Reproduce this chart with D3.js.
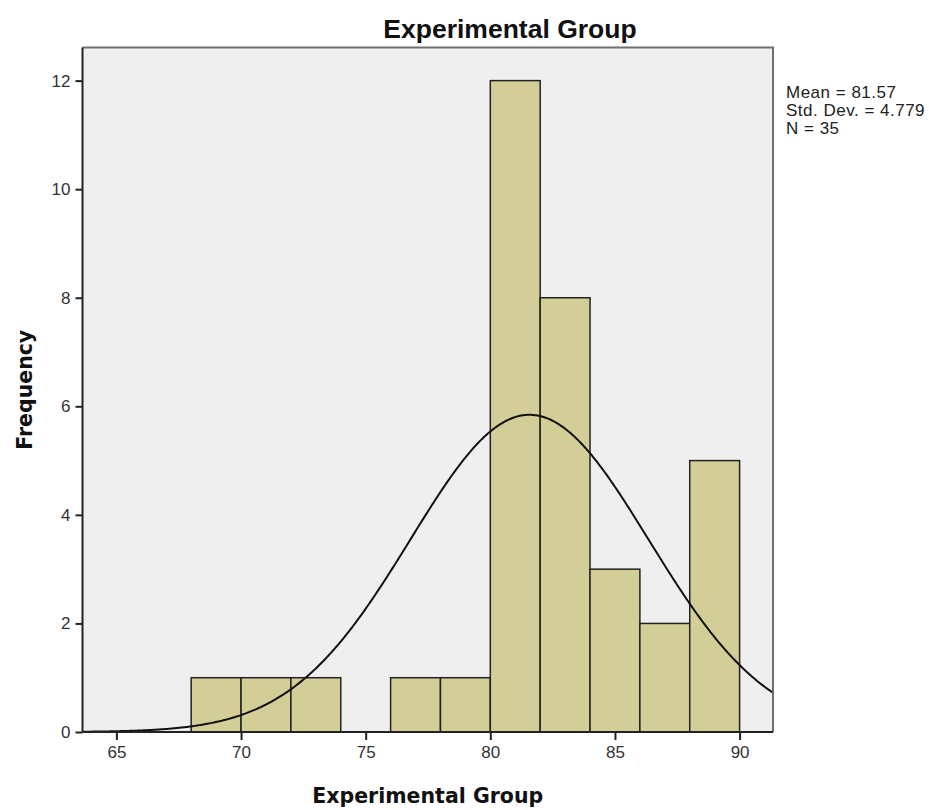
<!DOCTYPE html>
<html>
<head>
<meta charset="utf-8">
<script src="https://cdn.jsdelivr.net/npm/d3@7"></script>
<style>
  body { margin: 0; background: #fff; }
  svg { font-family: "Liberation Sans", Arial, sans-serif; }
</style>
</head>
<body>
<svg id="chart" width="929" height="810"></svg>
<script>
// histogram bins (lower edge, upper edge) and counts
const binStarts = [68, 70, 72, 74, 76, 78, 80, 82, 84, 86, 88];
const binWidth = 2;
const counts = [1, 1, 1, 0, 1, 1, 12, 8, 3, 2, 5];
const xTicks = [65, 70, 75, 80, 85, 90];
const yTicks = [0, 2, 4, 6, 8, 10, 12];
const stats = { mean: 81.57, sd: 4.779, n: 35 };
const statLines = ["Mean = 81.57", "Std. Dev. = 4.779", "N = 35"];

const svg = d3.select("#chart");
const margin = { top: 47.5, right: 156, bottom: 78, left: 82.5 };
const width = 929, height = 810;

const x = d3.scaleLinear()
  .domain([63.64, 91.34])
  .range([margin.left, width - margin.right]);
const y = d3.scaleLinear()
  .domain([0, 12.61])
  .range([height - margin.bottom, margin.top]);

// plot background
svg.append("rect")
  .attr("x", margin.left).attr("y", margin.top)
  .attr("width", x.range()[1] - margin.left)
  .attr("height", y.range()[0] - margin.top)
  .attr("fill", "#efefef");

// bars
const bins = binStarts.map((s, i) => ({ x0: s, x1: s + binWidth, count: counts[i] }))
  .filter(d => d.count > 0);
svg.append("g").selectAll("rect").data(bins).join("rect")
  .attr("x", d => x(d.x0))
  .attr("y", d => y(d.count))
  .attr("width", d => x(d.x1) - x(d.x0))
  .attr("height", d => y(0) - y(d.count))
  .attr("fill", "#d3ce97")
  .attr("stroke", "#222")
  .attr("stroke-width", 1.5);

// fitted normal curve
const pdf = v => stats.n * binWidth / (stats.sd * Math.sqrt(2 * Math.PI)) *
  Math.exp(-0.5 * ((v - stats.mean) / stats.sd) ** 2);
const xs = d3.range(x.domain()[0], x.domain()[1] + 0.001, 0.05);
svg.append("path")
  .datum(xs)
  .attr("fill", "none")
  .attr("stroke", "#111")
  .attr("stroke-width", 2)
  .attr("d", d3.line().x(v => x(v)).y(v => y(pdf(v))));

// frame: top/right lighter, left/bottom dark
const [x0, x1] = x.range();
const [yb, yt] = y.range();
svg.append("path")
  .attr("d", `M${x0},${yt}H${x1}V${yb}`)
  .attr("fill", "none").attr("stroke", "#707070").attr("stroke-width", 2);

// axes
const xAxis = svg.append("g")
  .attr("transform", `translate(0,${yb})`)
  .call(d3.axisBottom(x).tickValues(xTicks).tickSize(8).tickPadding(6));
const yAxis = svg.append("g")
  .attr("transform", `translate(${x0},0)`)
  .call(d3.axisLeft(y).tickValues(yTicks).tickSize(7).tickPadding(5));
[xAxis, yAxis].forEach(g => {
  g.select(".domain").attr("stroke", "#222").attr("stroke-width", 2);
  g.selectAll(".tick line").attr("stroke", "#222").attr("stroke-width", 2);
  g.selectAll(".tick text")
    .attr("fill", "#333")
    .style("font-size", "17px")
    .style("font-family", "'Liberation Sans', Arial, sans-serif");
});
xAxis.select(".domain").attr("d", `M${x0},0H${x1}`);
yAxis.select(".domain").attr("d", `M0,${yb}V${yt}`);

// titles
svg.append("text")
  .attr("x", 510).attr("y", 37.5)
  .attr("text-anchor", "middle")
  .style("font-size", "26.5px").style("font-weight", "bold")
  .attr("fill", "#111")
  .text("Experimental Group");

const axisTitleFont = "'DejaVu Sans', Verdana, sans-serif";
svg.append("text")
  .attr("x", (x0 + x1) / 2).attr("y", 803)
  .attr("text-anchor", "middle")
  .style("font-family", axisTitleFont)
  .style("font-size", "20.5px").style("font-weight", "bold")
  .attr("fill", "#111")
  .text("Experimental Group");

svg.append("text")
  .attr("transform", `translate(32,${(yt + yb) / 2}) rotate(-90)`)
  .attr("text-anchor", "middle")
  .style("font-family", axisTitleFont)
  .style("font-size", "20.5px").style("font-weight", "bold")
  .attr("fill", "#111")
  .text("Frequency");

// stats annotation
svg.append("g").selectAll("text").data(statLines).join("text")
  .attr("x", 786)
  .attr("y", (d, i) => 98 + i * 18)
  .style("font-size", "17px")
  .style("letter-spacing", "0.5px")
  .attr("fill", "#222")
  .text(d => d);
</script>
</body>
</html>
